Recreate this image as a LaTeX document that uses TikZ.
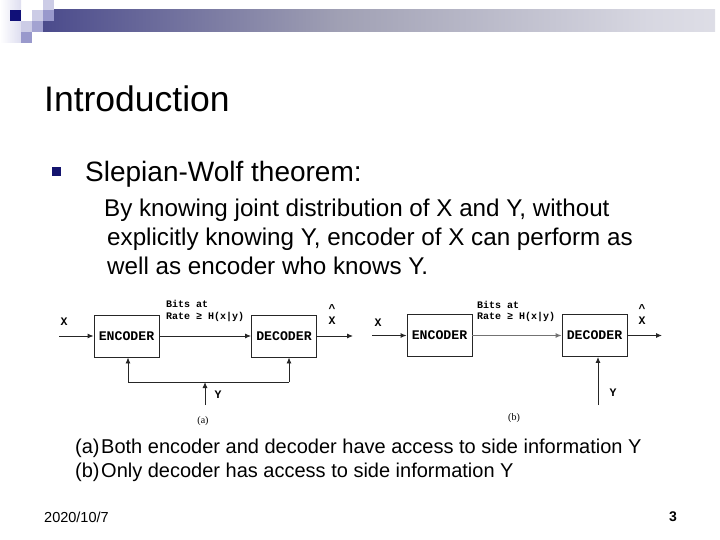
\documentclass[tikz,border=0pt]{standalone}
\usepackage{fontspec}
\setmainfont{Liberation Sans}
\newfontfamily\monof{Liberation Mono}
\newfontfamily\seriff{Liberation Serif}
\usetikzlibrary{arrows.meta}
\definecolor{navyb}{RGB}{16,16,120}
\definecolor{lavl}{RGB}{204,204,230}
\definecolor{lavm}{RGB}{153,153,204}
\definecolor{lavp}{RGB}{222,222,240}
\definecolor{barA}{RGB}{25,25,125}
\definecolor{barB}{RGB}{75,75,140}
\definecolor{barC}{RGB}{160,160,180}
\definecolor{barD}{RGB}{215,215,225}
\definecolor{bullet}{RGB}{20,20,110}
\pgfdeclarehorizontalshading{barshade}{100bp}{color(0bp)=(barA); color(25bp)=(barB); color(47bp)=(barC); color(70bp)=(barD); color(100bp)=(white)}
\begin{document}
\begin{tikzpicture}[x=1pt,y=-1pt,
  box/.style={draw=black!85, line width=0.9pt, minimum width=65pt, minimum height=42pt, inner sep=0pt,
    font=\monof\bfseries\fontsize{13.2}{14}\selectfont},
  conn/.style={draw=black!85, line width=0.9pt},
  arr/.style={conn, -{Latex[length=6pt,width=5pt]}},
  lbl/.style={font=\monof\bfseries\fontsize{11.5}{12}\selectfont, inner sep=0pt},
  small/.style={font=\monof\bfseries\fontsize{10}{11}\selectfont, inner sep=0pt, anchor=west},
  sub/.style={font=\seriff\fontsize{10}{11}\selectfont, inner sep=0pt},
  body/.style={font=\fontsize{24.2}{28}\selectfont, inner sep=0pt, anchor=base west},
  capt/.style={font=\fontsize{20}{24}\selectfont, inner sep=0pt, anchor=base west}
]
\useasboundingbox (0,0) rectangle (720,540);
% header decoration
\shade[left color=white, right color=lavp] (0,0) rectangle (21,43);
\shade[shading=barshade] (43,10) rectangle (715,32);
\fill[navyb] (10,10) rectangle (21,21);
\fill[lavl] (32,10) rectangle (43,21);
\fill[lavl] (43,0) rectangle (54,10);
\fill[lavm] (43,10) rectangle (54,21);
\fill[lavl] (21,21) rectangle (32,32);
\fill[lavm!80!lavl] (32,21) rectangle (43,32);
\fill[lavm] (21,32) rectangle (32,43);
% title
\node[font=\fontsize{35.5}{40}\selectfont, inner sep=0pt, anchor=base west] (title) at (44,112) {Introduction};
\node[fill=bullet, minimum size=9pt, inner sep=0pt] (bul) at (56,172) {};
\node[font=\fontsize{28}{32}\selectfont, inner sep=0pt, anchor=base west] (sw) at (85,182) {Slepian-Wolf theorem:};
\node[body] (l1) at (104,216) {By knowing joint distribution of X and Y, without};
\node[body] (l2) at (107,245) {explicitly knowing Y, encoder of X can perform as};
\node[body] (l3) at (107,274) {well as encoder who knows Y.};
% diagram (a)
\node[box] (enca) at (126.5,336) {ENCODER};
\node[box] (deca) at (284,336) {DECODER};
\coordinate (xina) at (59,336);
\coordinate (xouta) at (353,336);
\coordinate (ya) at (205,405);
\coordinate (ja) at (205,382);
\coordinate (fla) at (128,382);
\coordinate (fra) at (289,382);
\draw[arr] (xina) -- (enca);
\draw[arr] (enca) -- (deca);
\draw[arr] (deca) -- (xouta);
\draw[conn] (fla) -- (fra);
\draw[arr] (fla) -- (fla |- enca.south);
\draw[arr] (fra) -- (fra |- deca.south);
\draw[arr] (ya) -- (ja);
\node[lbl] (xa) at (64,322) {X};
\node[lbl] (hata) at (332,309) {\textasciicircum};
\node[lbl] (xha) at (332,321) {X};
\node[lbl] (yla) at (218,395) {Y};
\node[small] (bitsa) at (166,304) {Bits at};
\node[small] (ratea) at (166,317) {Rate ≥ H(x|y)};
\node[sub] (suba) at (203,421) {(a)};
% diagram (b)
\node[box] (encb) at (439.5,335.5) {ENCODER};
\node[box] (decb) at (594.5,335.5) {DECODER};
\coordinate (xinb) at (372,335.5);
\coordinate (xoutb) at (662,335.5);
\coordinate (yb) at (598,405);
\draw[arr] (xinb) -- (encb);
\draw[arr, draw=black!55] (encb) -- (decb);
\draw[arr] (decb) -- (xoutb);
\draw[arr] (yb) -- (yb |- decb.south);
\node[lbl] (xb) at (378,323) {X};
\node[lbl] (hatb) at (642,309) {\textasciicircum};
\node[lbl] (xhb) at (642,321) {X};
\node[lbl] (ylb) at (613,393) {Y};
\node[small] (bitsb) at (477,305) {Bits at};
\node[small] (rateb) at (477,317) {Rate ≥ H(x|y)};
\node[sub] (subb) at (514,418) {(b)};
% captions
\node[capt] (ca) at (75,453) {(a)};
\node[capt] (cat) at (101,453) {Both encoder and decoder have access to side information Y};
\node[capt] (cb) at (75,477) {(b)};
\node[capt] (cbt) at (101,477) {Only decoder has access to side information Y};
% footer
\node[font=\fontsize{14.5}{16}\selectfont, inner sep=0pt, anchor=base west] (date) at (44,522) {2020/10/7};
\node[font=\bfseries\fontsize{14}{16}\selectfont, inner sep=0pt, anchor=base] (pg) at (673,521) {3};
\end{tikzpicture}
\end{document}
